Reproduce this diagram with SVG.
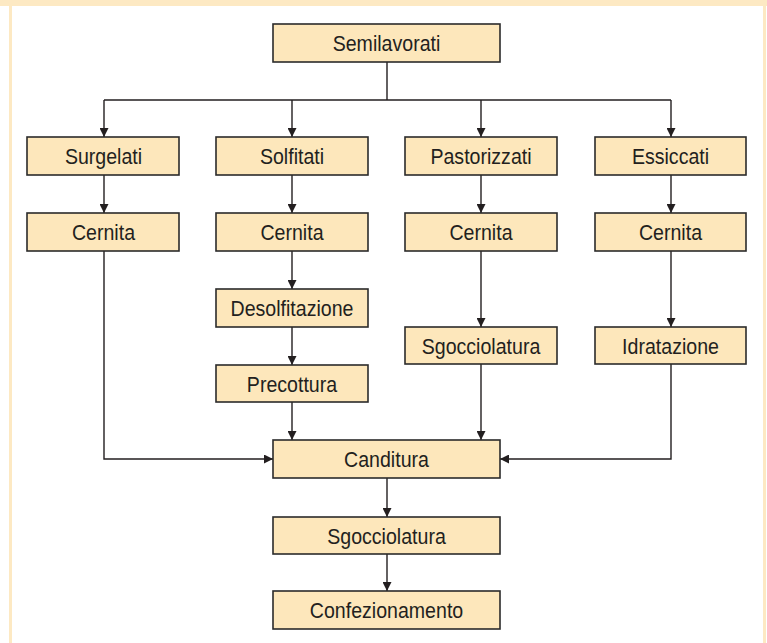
<svg xmlns="http://www.w3.org/2000/svg" width="767" height="643" viewBox="0 0 767 643">
<defs>
<marker id="ah" markerWidth="9" markerHeight="9" refX="9" refY="4.5" orient="auto" markerUnits="userSpaceOnUse">
<path d="M0,0 L9,4.5 L0,9 z" fill="#231f20"/>
</marker>
<style>
.box{fill:#fde7bb;stroke:#2b2b2b;stroke-width:1.6}
.lbl{font-family:"Liberation Sans",Arial,sans-serif;font-size:22px;fill:#231f20;text-anchor:middle}
.c{fill:none;stroke:#231f20;stroke-width:1.4}
.ca{fill:none;stroke:#231f20;stroke-width:1.4;marker-end:url(#ah)}
</style>
</defs>
<rect x="0" y="0" width="767" height="643" fill="#ffffff"/>
<rect x="0" y="0" width="767" height="6" fill="#fde9c3"/>
<rect x="9" y="0" width="3" height="643" fill="#fde9c3"/>
<rect x="763" y="0" width="3" height="643" fill="#fde9c3"/>
<g id="connectors">
<path class="c" d="M387,62 V100 M104,100 H671"/>
<path class="ca" d="M104,100 V137"/>
<path class="ca" d="M292,100 V137"/>
<path class="ca" d="M481,100 V137"/>
<path class="ca" d="M671,100 V137"/>
<path class="ca" d="M104,175 V213"/>
<path class="ca" d="M292,175 V213"/>
<path class="ca" d="M481,175 V213"/>
<path class="ca" d="M671,175 V213"/>
<path class="ca" d="M104,251 V459 H273"/>
<path class="ca" d="M292,251 V289"/>
<path class="ca" d="M292,327 V365"/>
<path class="ca" d="M292,402 V440"/>
<path class="ca" d="M481,251 V327"/>
<path class="ca" d="M481,364 V440"/>
<path class="ca" d="M671,251 V327"/>
<path class="ca" d="M671,364 V459 H500"/>
<path class="ca" d="M387,478 V517"/>
<path class="ca" d="M387,554 V591"/>
</g>
<g id="semilavorati"><rect class="box" x="273" y="24" width="227" height="38"/><text class="lbl" transform="translate(386.5 51) scale(0.89 1)">Semilavorati</text></g>
<g id="surgelati"><rect class="box" x="27" y="137" width="152" height="38"/><text class="lbl" transform="translate(103.5 164) scale(0.89 1)">Surgelati</text></g>
<g id="solfitati"><rect class="box" x="216" y="137" width="152" height="38"/><text class="lbl" transform="translate(292 164) scale(0.89 1)">Solfitati</text></g>
<g id="pastorizzati"><rect class="box" x="405" y="137" width="152" height="38"/><text class="lbl" transform="translate(481 164) scale(0.89 1)">Pastorizzati</text></g>
<g id="essiccati"><rect class="box" x="595" y="137" width="151" height="38"/><text class="lbl" transform="translate(670.5 164) scale(0.89 1)">Essiccati</text></g>
<g id="cernita1"><rect class="box" x="27" y="213" width="152" height="38"/><text class="lbl" transform="translate(103.5 240) scale(0.89 1)">Cernita</text></g>
<g id="cernita2"><rect class="box" x="216" y="213" width="152" height="38"/><text class="lbl" transform="translate(292 240) scale(0.89 1)">Cernita</text></g>
<g id="cernita3"><rect class="box" x="405" y="213" width="152" height="38"/><text class="lbl" transform="translate(481 240) scale(0.89 1)">Cernita</text></g>
<g id="cernita4"><rect class="box" x="595" y="213" width="151" height="38"/><text class="lbl" transform="translate(670.5 240) scale(0.89 1)">Cernita</text></g>
<g id="desolfitazione"><rect class="box" x="216" y="289" width="152" height="38"/><text class="lbl" transform="translate(292 316) scale(0.89 1)">Desolfitazione</text></g>
<g id="precottura"><rect class="box" x="216" y="365" width="152" height="37"/><text class="lbl" transform="translate(292 391.5) scale(0.89 1)">Precottura</text></g>
<g id="sgocciolatura1"><rect class="box" x="405" y="327" width="152" height="37"/><text class="lbl" transform="translate(481 353.5) scale(0.89 1)">Sgocciolatura</text></g>
<g id="idratazione"><rect class="box" x="595" y="327" width="151" height="37"/><text class="lbl" transform="translate(670.5 353.5) scale(0.89 1)">Idratazione</text></g>
<g id="canditura"><rect class="box" x="273" y="440" width="227" height="38"/><text class="lbl" transform="translate(386.5 467) scale(0.89 1)">Canditura</text></g>
<g id="sgocciolatura2"><rect class="box" x="273" y="517" width="227" height="37"/><text class="lbl" transform="translate(386.5 543.5) scale(0.89 1)">Sgocciolatura</text></g>
<g id="confezionamento"><rect class="box" x="273" y="591" width="227" height="38"/><text class="lbl" transform="translate(386.5 618) scale(0.89 1)">Confezionamento</text></g>
</svg>
